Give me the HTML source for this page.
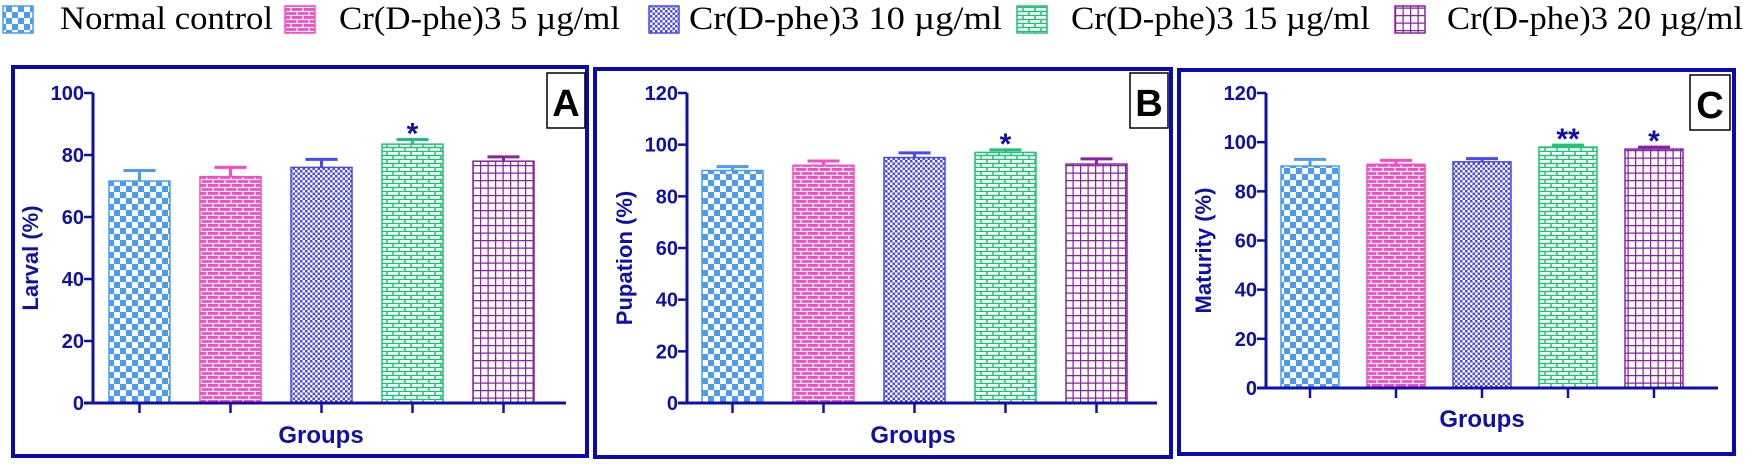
<!DOCTYPE html>
<html><head><meta charset="utf-8"><style>
html,body{margin:0;padding:0;background:#fff;width:1748px;height:464px;overflow:hidden}
svg{display:block}
.tk{font-family:"Liberation Sans",Arial,sans-serif;font-weight:bold;font-size:20px;fill:#1010a8}
.lg{font-family:"Liberation Serif","Times New Roman",serif;font-size:33px;fill:#000}
</style></head><body>
<svg id="chart" width="1748" height="464" xmlns="http://www.w3.org/2000/svg">
<defs>
<pattern id="p0" width="12" height="12" patternUnits="userSpaceOnUse"><rect width="12" height="12" fill="#fff"/><rect width="6" height="6" fill="#4a9cf2"/><rect x="6" y="6" width="6" height="6" fill="#4a9cf2"/></pattern>
<pattern id="p1" width="12" height="8" patternUnits="userSpaceOnUse"><rect width="12" height="8" fill="#f64bc8"/><path d="M0 3.5H12M0 7.5H12M3 0V3.5M9 3.5V8" stroke="#fff" stroke-width="1.2"/></pattern>
<pattern id="p2" width="5" height="5" patternUnits="userSpaceOnUse"><rect width="5" height="5" fill="#fff"/><rect width="2.5" height="2.5" fill="#4848f0"/><rect x="2.5" y="2.5" width="2.5" height="2.5" fill="#4848f0"/></pattern>
<pattern id="p3" width="12" height="8" patternUnits="userSpaceOnUse"><rect width="12" height="8" fill="#fff"/><path d="M0 3.5H12M0 7.5H12M3 0V3.5M9 3.5V8" stroke="#22c07a" stroke-width="1.5"/></pattern>
<pattern id="p4" width="7.5" height="7.5" patternUnits="userSpaceOnUse"><rect width="7.5" height="7.5" fill="#fff"/><path d="M0 0.6H7.5M0.6 0V7.5" stroke="#8a22a6" stroke-width="1.3"/></pattern>
</defs>
<g id="legend"></g>
<g id="panels"></g>
</svg>
<script>
const groups = ["Normal control","Cr(D-phe)3 5 µg/ml","Cr(D-phe)3 10 µg/ml","Cr(D-phe)3 15 µg/ml","Cr(D-phe)3 20 µg/ml"];
const larvalValues = [71.6, 73, 76, 83.5, 78];
const larvalErrors = [3.4, 3, 2.6, 1.5, 1.4];
const larvalSig = ["", "", "", "*", ""];
const pupationValues = [90, 92, 95, 97, 92.5];
const pupationErrors = [1.5, 1.7, 1.8, 1, 2];
const pupationSig = ["", "", "", "*", ""];
const maturityValues = [90.3, 91, 92, 98, 97.2];
const maturityErrors = [2.7, 1.6, 1.3, 0.8, 0.8];
const maturitySig = ["", "", "", "**", "*"];
const larvalTicks = [0,20,40,60,80,100];
const pctTicks = [0,20,40,60,80,100,120];
const colors = ["#4a9cf2","#f64bc8","#4848f0","#22c07a","#8a22a6"];
const NS="http://www.w3.org/2000/svg";
function mk(tag,attrs,parent){const e=document.createElementNS(NS,tag);for(const k in attrs)e.setAttribute(k,attrs[k]);parent.appendChild(e);return e;}
// legend
const lg=document.getElementById('legend');
const legIcon=[3,285,649,1017,1395];
const legText=[60,339,689,1071,1447];
const legW=[213,281,313,299,296];
groups.forEach((g,i)=>{
  const it=mk('g',{},lg);
  
  
  mk('rect',{x:legIcon[i],y:6,width:30,height:27,fill:'url(#p'+i+')',stroke:colors[i],'stroke-width':1.5},it);
  const t=mk('text',{x:legText[i],y:29,class:'lg',textLength:legW[i],lengthAdjust:'spacingAndGlyphs'},it);t.textContent=g;
});
const panels=[
 {id:'A',title:'Larval (%)',vals:larvalValues,errs:larvalErrors,sig:larvalSig,ticks:larvalTicks,max:100,ax:93,y0:403,yt:93,bx:109,sp:91,bw:61,axEnd:566,border:[13,67,574,389],box:[547,73,38,55],gx:321,gy:443},
 {id:'B',title:'Pupation (%)',vals:pupationValues,errs:pupationErrors,sig:pupationSig,ticks:pctTicks,max:120,ax:687,y0:403,yt:93,bx:702,sp:91,bw:61,axEnd:1157,border:[595,69,576,388],box:[1130,73,38,55],gx:913,gy:443},
 {id:'C',title:'Maturity (%)',vals:maturityValues,errs:maturityErrors,sig:maturitySig,ticks:pctTicks,max:120,ax:1266,y0:388,yt:93,bx:1281,sp:86,bw:58,axEnd:1718,border:[1179,70,555,384],box:[1690,75,40,55],gx:1482,gy:427}
];
const pg=document.getElementById('panels');
panels.forEach(p=>{
  const g=mk('g',{},pg);
  
  
  const Y=v=>p.y0-(v/p.max)*(p.y0-p.yt);
  const b=mk('rect',{x:p.border[0],y:p.border[1],width:p.border[2],height:p.border[3],fill:'none',stroke:'#0a0ab4','stroke-width':4},g);
  
  
  const bx=mk('rect',{x:p.box[0],y:p.box[1],width:p.box[2],height:p.box[3],fill:'#fff',stroke:'#000','stroke-width':1.5},g);
  
  
  const lt=mk('text',{x:p.box[0]+p.box[2]/2,y:p.box[1]+p.box[3]-12,'text-anchor':'middle','font-family':'Liberation Sans, Arial, sans-serif','font-weight':'bold','font-size':38,fill:'#000'},g);
  lt.textContent=p.id;
  
  
  p.vals.forEach((v,i)=>{
    const x=p.bx+i*p.sp, cx=x+p.bw/2;
    const r=mk('rect',{x:x,y:Y(v),width:p.bw,height:p.y0-Y(v),fill:'url(#p'+i+')',stroke:colors[i],'stroke-width':1.5},g);
    
    
    const e=p.errs[i];
    mk('path',{d:`M${cx} ${Y(v)}V${Y(v+e)}M${cx-16} ${Y(v+e)}H${cx+16}`,stroke:colors[i],'stroke-width':3,fill:'none'},g);
    if(p.sig[i]){const s=mk('text',{x:cx,y:Y(v+e)+4,'text-anchor':'middle','font-family':'Liberation Sans, Arial, sans-serif','font-weight':'bold','font-size':30,fill:'#1010a8'},g);s.textContent=p.sig[i];
      
      }
    mk('line',{x1:cx,y1:p.y0,x2:cx,y2:p.y0+10,stroke:'#1010a8','stroke-width':2.5},g);
  });
  mk('path',{d:`M${p.ax} ${p.yt}V${p.y0}M${p.ax-9} ${p.y0}H${p.axEnd}`,stroke:'#1010a8','stroke-width':3,fill:'none'},g);
  p.ticks.forEach(t=>{
    mk('line',{x1:p.ax-9,y1:Y(t),x2:p.ax,y2:Y(t),stroke:'#1010a8','stroke-width':2.5},g);
    const tt=mk('text',{x:p.ax-9,y:Y(t)+7,'text-anchor':'end',class:'tk'},g);tt.textContent=t;
    
    
  });
  const yt=mk('text',{transform:`translate(${p.ax-55},${(p.y0+p.yt)/2+10}) rotate(-90)`,'text-anchor':'middle','font-family':'Liberation Sans, Arial, sans-serif','font-weight':'bold','font-size':22,fill:'#1010a8'},g);
  yt.textContent=p.title;
  
  
  const xt=mk('text',{x:p.gx,y:p.gy,'text-anchor':'middle','font-family':'Liberation Sans, Arial, sans-serif','font-weight':'bold','font-size':24,fill:'#1010a8'},g);
  xt.textContent='Groups';
  
  
});
</script>
</body></html>
